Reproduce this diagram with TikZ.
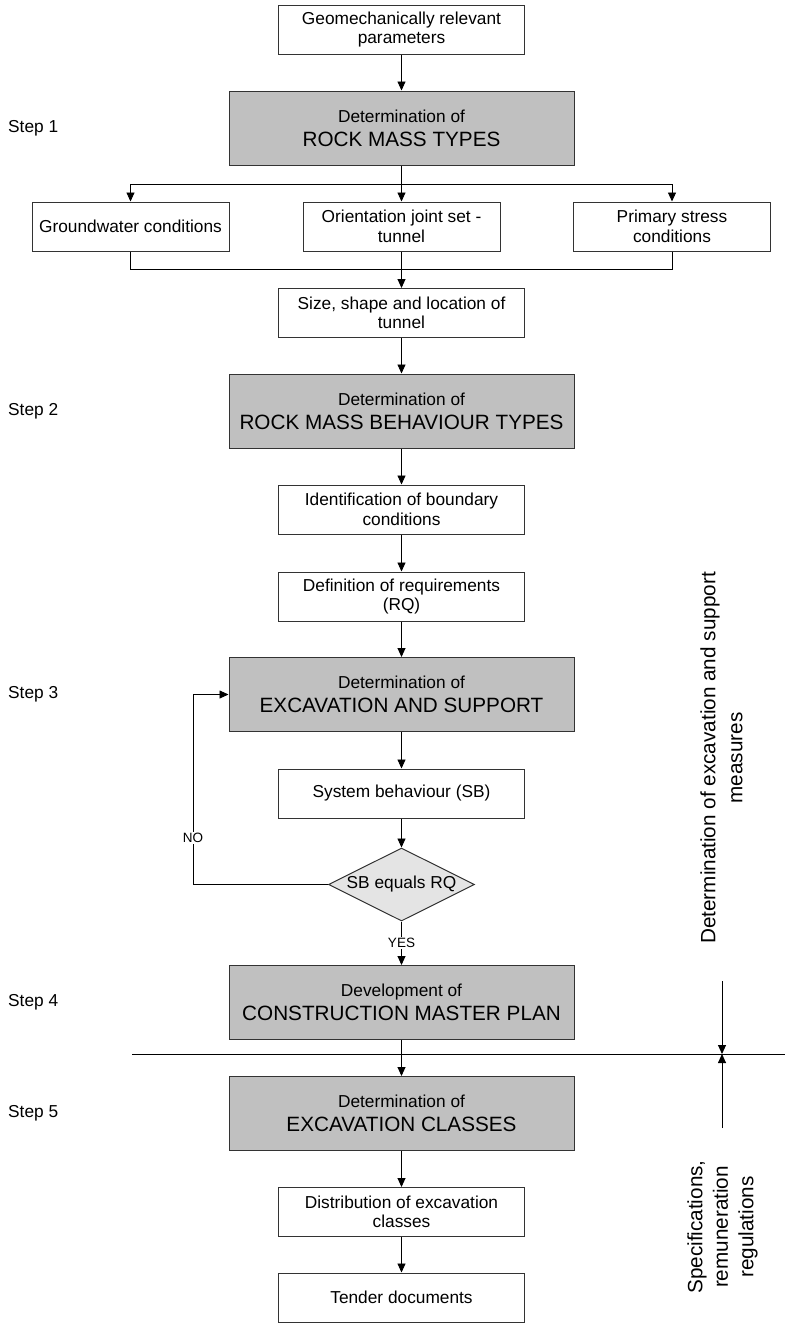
\documentclass[tikz,border=0pt]{standalone}
\usepackage{fontspec}
\setmainfont{Liberation Sans}
\usetikzlibrary{arrows.meta,shapes.geometric}
\definecolor{boxfill}{HTML}{C0C0C0}
\definecolor{diafill}{HTML}{E4E4E4}
\definecolor{edgecol}{HTML}{333333}
\newcommand\smallf{\fontsize{17.3}{19.5}\selectfont}
\newcommand\bigf{\fontsize{20.7}{24}\selectfont}
\begin{document}
\begin{tikzpicture}[x=1pt,y=-1pt,
  wbox/.style={draw=edgecol, line width=1pt, fill=white, minimum width=246pt, minimum height=49pt, inner sep=0pt, align=center, font=\smallf},
  sbox/.style={wbox, minimum width=197pt},
  gbox/.style={draw=edgecol, line width=1pt, fill=boxfill, minimum width=345pt, minimum height=74pt, inner sep=0pt, align=center, font=\bigf},
  arr/.style={-{Triangle[length=9pt,width=8pt]}, line width=0.9pt},
  ln/.style={line width=0.9pt},
  steplbl/.style={anchor=west, font=\smallf, inner sep=0pt},
  yn/.style={font=\fontsize{13.5}{15}\selectfont, fill=white, inner sep=1.5pt}]
\useasboundingbox (0,0) rectangle (785,1323);

% nodes
\node[wbox] (geo) at (401.5,29.5) {Geomechanically relevant\\parameters};
\node[gbox] (g1) at (401.5,128) {{\smallf Determination of}\\ROCK MASS TYPES};
\node[sbox] (left) at (130.5,226.5) {Groundwater conditions};
\node[sbox] (mid) at (401.5,226.5) {Orientation joint set -\\tunnel};
\node[sbox] (right) at (672,226.5) {Primary stress\\conditions};
\node[wbox] (size) at (401.5,313) {Size, shape and location of\\tunnel};
\node[gbox] (g2) at (401.5,411) {{\smallf Determination of}\\ROCK MASS BEHAVIOUR TYPES};
\node[wbox] (ident) at (401.5,509.5) {Identification of boundary\\conditions};
\node[wbox] (defn) at (401.5,596.5) {Definition of requirements\\(RQ)};
\node[gbox] (g3) at (401.5,694.5) {{\smallf Determination of}\\EXCAVATION AND SUPPORT};
\node[wbox] (sysb) at (401.5,793.5) {System behaviour (SB)};
\node[diamond, aspect=2, draw=edgecol, fill=diafill, line width=1pt, minimum width=146pt, minimum height=73pt, inner sep=0pt, font=\smallf] (dia) at (401.5,884.5) {SB equals RQ};
\node[gbox] (g4) at (401.5,1002.5) {{\smallf Development of}\\CONSTRUCTION MASTER PLAN};
\node[gbox] (g5) at (401.5,1113.5) {{\smallf Determination of}\\EXCAVATION CLASSES};
\node[wbox] (dist) at (401.5,1212) {Distribution of excavation\\classes};
\node[wbox] (tender) at (401.5,1297.5) {Tender documents};

% step labels
\node[steplbl] (s1) at (8,128) {Step 1};
\node[steplbl] (s2) at (8,411) {Step 2};
\node[steplbl] (s3) at (8,694.5) {Step 3};
\node[steplbl] (s4) at (8,1002.5) {Step 4};
\node[steplbl] (s5) at (8,1113.5) {Step 5};

% side texts
\node[rotate=90, align=center, inner sep=0pt, font=\fontsize{20.7}{27}\selectfont] (meas) at (721.5,758) {Determination of excavation and support\\measures};
\node[rotate=90, align=center, inner sep=0pt, font=\fontsize{20.7}{25.5}\selectfont] (spec) at (722.5,1227) {Specifications,\\remuneration\\regulations};

% coordinates
\coordinate (br) at (401.5,184);
\coordinate (jn) at (401.5,269);
\coordinate (lb) at (193,884.5);
\coordinate (lt) at (193,694.5);
\coordinate (hl) at (132,1054);
\coordinate (hr) at (785,1054);
\coordinate (ta) at (722,981);
\coordinate (tm) at (722,1054);
\coordinate (tb) at (722,1128);

% connectors
\draw[arr] (geo) -- (g1);
\draw[arr] (g1) -- (mid);
\draw[arr] (br) -| (left.north);
\draw[arr] (br) -| (right.north);
\draw[ln] (left.south) |- (jn);
\draw[ln] (right.south) |- (jn);
\draw[arr] (mid) -- (size);
\draw[arr] (size) -- (g2);
\draw[arr] (g2) -- (ident);
\draw[arr] (ident) -- (defn);
\draw[arr] (defn) -- (g3);
\draw[arr] (g3) -- (sysb);
\draw[arr] (sysb) -- (dia);
\draw[ln] (dia.west) -- (lb) -- (lt);
\draw[arr] (lt) -- (g3.west);
\node[yn] (no) at (193,838) {NO};
\draw[arr] (dia.south) -- (g4.north);
\node[yn] (yes) at (401.5,943) {YES};
\draw[ln] (hl) -- (hr);
\draw[arr] (g4) -- (g5);
\draw[arr] (g5) -- (dist);
\draw[arr] (dist) -- (tender);
\draw[arr] (ta) -- (tm);
\draw[arr] (tb) -- (tm);
\end{tikzpicture}
\end{document}
